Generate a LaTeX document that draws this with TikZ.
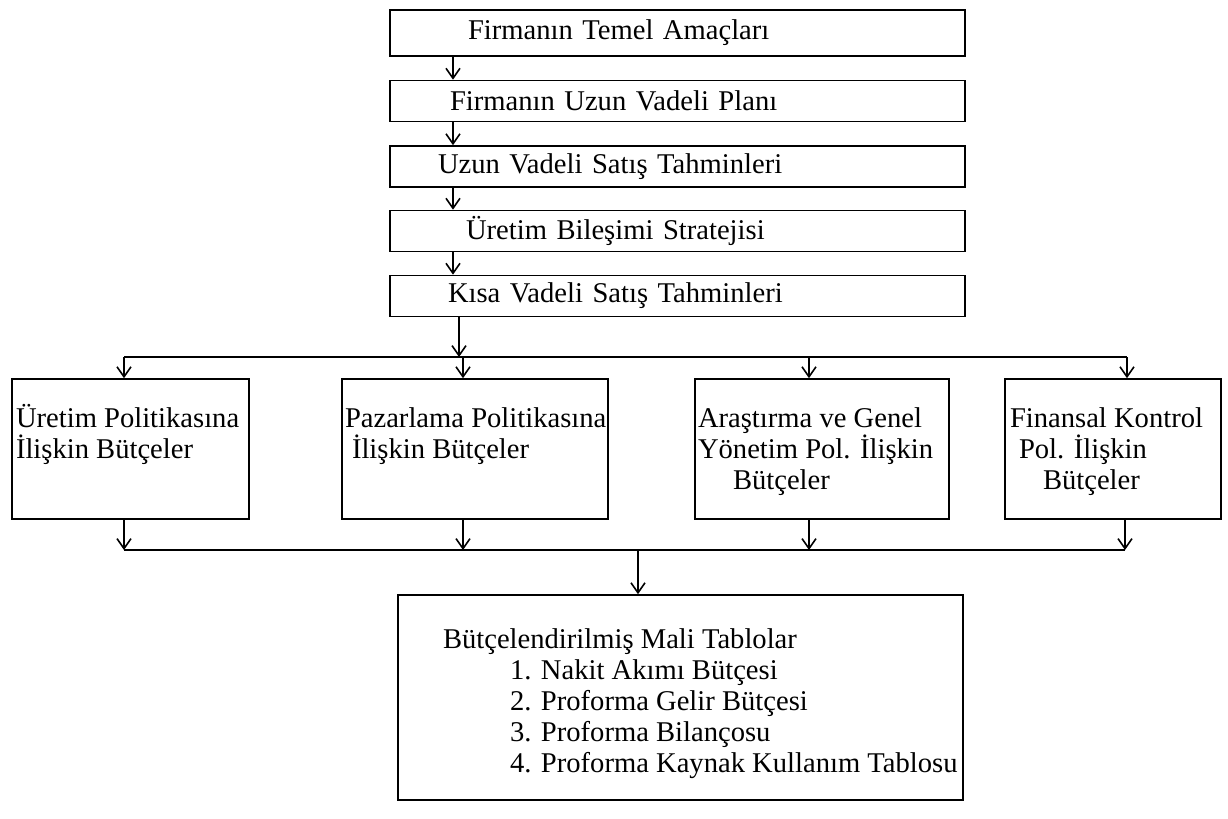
\documentclass[tikz,border=0pt]{standalone}
\usepackage{fontspec}
\setmainfont{Liberation Serif}
\usetikzlibrary{arrows.meta}
\newcommand\lvltext[3]{\parbox[c][#2][t]{#1}{\raggedright\rule{0pt}{24pt}#3}}
\begin{document}
\begin{tikzpicture}[x=0.5pt,y=-0.5pt,
  font=\fontsize{14.3}{15.5}\selectfont,
  line width=0.8pt,
  topbox/.style={draw, inner sep=0pt, minimum width=287.5pt, text width=287.5pt, align=left},
  lvl/.style={draw, inner sep=0pt},
  arr/.style={-{Straight Barb[length=5pt,width=7pt]}}]
\useasboundingbox (0,0) rectangle (1228,819);

% top chain
\node[topbox, minimum height=23pt]   (b1) at (677.5,33)  {\hspace*{39pt}Firmanın Temel Amaçları};
\node[topbox, minimum height=20.5pt] (b2) at (677.5,101) {\hspace*{30pt}Firmanın Uzun Vadeli Planı};
\node[topbox, minimum height=20.5pt] (b3) at (677.5,166.5) {\hspace*{24pt}Uzun Vadeli Satış Tahminleri};
\node[topbox, minimum height=20.5pt] (b4) at (677.5,231) {\hspace*{38pt}Üretim Bileşimi Stratejisi};
\node[topbox, minimum height=20.5pt] (b5) at (677.5,296) {\hspace*{29pt}Kısa Vadeli Satış Tahminleri};

\coordinate (ax) at (453,0);
\draw[arr] (b1.south -| ax) -- (b2.north -| ax);
\draw[arr] (b2.south -| ax) -- (b3.north -| ax);
\draw[arr] (b3.south -| ax) -- (b4.north -| ax);
\draw[arr] (b4.south -| ax) -- (b5.north -| ax);

% level boxes
\node[lvl] (A) at (130.5,449) {\lvltext{118.5pt}{70pt}{\hspace*{2pt}Üretim Politikasına\\\hspace*{2pt}İlişkin Bütçeler}};
\node[lvl] (B) at (475,449) {\lvltext{133pt}{70pt}{\hspace*{1.5pt}Pazarlama Politikasına\\\hspace*{5pt}İlişkin Bütçeler}};
\node[lvl] (C) at (822,449) {\lvltext{127pt}{70pt}{\hspace*{1.5pt}Araştırma ve Genel\\\hspace*{1.5pt}Yönetim Pol. İlişkin\\\hspace*{19pt}Bütçeler}};
\node[lvl] (D) at (1113,449) {\lvltext{108pt}{70pt}{\hspace*{2.5pt}Finansal Kontrol\\\hspace*{7pt}Pol. İlişkin\\\hspace*{19pt}Bütçeler}};

% distribution line
\coordinate (j0) at (459,357);
\coordinate (ja) at (124,357);
\coordinate (jb) at (463,357);
\coordinate (jc) at (809,357);
\coordinate (jd) at (1127,357);
\draw[arr] (b5.south -| j0) -- (j0);
\draw (ja) -- (jd);
\draw[arr] (ja) -- (A.north -| ja);
\draw[arr] (jb) -- (B.north -| jb);
\draw[arr] (jc) -- (C.north -| jc);
\draw[arr] (jd) -- (D.north -| jd);

% final box
\node[draw, inner sep=0pt] (E) at (680.5,697.5) {\parbox[c][102.5pt][t]{282.5pt}{\raggedright\rule{0pt}{26.5pt}\hspace*{22.5pt}Bütçelendirilmiş Mali Tablolar\\
\hspace*{56pt}1. Nakit Akımı Bütçesi\\
\hspace*{56pt}2. Proforma Gelir Bütçesi\\
\hspace*{56pt}3. Proforma Bilançosu\\
\hspace*{56pt}4. Proforma Kaynak Kullanım Tablosu}};

% collection line
\coordinate (ka) at (124,550);
\coordinate (kb) at (463,550);
\coordinate (kc) at (809,550);
\coordinate (kd) at (1125,550);
\coordinate (k0) at (638,550);
\draw[arr] (A.south -| ka) -- (ka);
\draw[arr] (B.south -| kb) -- (kb);
\draw[arr] (C.south -| kc) -- (kc);
\draw[arr] (D.south -| kd) -- (kd);
\draw (ka) -- (kd);
\draw[arr] (k0) -- (E.north -| k0);
\end{tikzpicture}
\end{document}
